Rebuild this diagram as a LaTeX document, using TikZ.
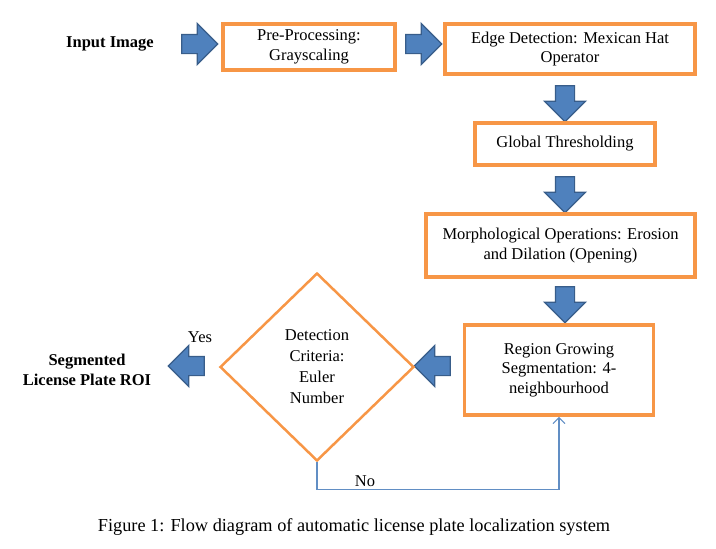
\documentclass[tikz,border=0pt]{standalone}
\usepackage{fontspec}
\setmainfont{Liberation Serif}
\usetikzlibrary{shapes.geometric, shapes.arrows, arrows, arrows.meta}
\definecolor{boxorange}{HTML}{F79646}
\definecolor{arrfill}{HTML}{4F81BD}
\definecolor{arredge}{HTML}{385D8A}
\tikzstyle{blk}=[draw=boxorange, line width=3.5pt, fill=white, align=center, inner sep=2pt]
\tikzstyle{dec}=[diamond, draw=boxorange, line width=2.5pt, align=center, minimum width=194pt, minimum height=188pt, inner sep=0pt, font=\fontsize{16.5}{21}\selectfont]
\tikzstyle{barrow}=[single arrow, draw=arredge, fill=arrfill, line width=1.2pt, inner sep=9pt, minimum height=36pt, single arrow head extend=11pt]
\tikzstyle{lbl}=[font=\fontsize{16.5}{19.5}\selectfont\bfseries, align=center]
\tikzstyle{fb}=[draw=arrfill!90, line width=1.1pt, -{Straight Barb[length=6pt, width=12pt]}]

\begin{document}
\begin{tikzpicture}[x=1pt, y=-1pt, every node/.style={font=\fontsize{16.5}{19.5}\selectfont}]
      \useasboundingbox (0,0) rectangle (716,549);
      % top row
      \node [lbl] (input) at (110,44) {Input Image};
      \node [barrow] (a1) at (195,44) {};
      \node [blk, minimum width=172pt, minimum height=46pt] (pre) at (309,47) {Pre-Processing:\\Grayscaling};
      \node [barrow] (a2) at (419,44) {};
      \node [blk, minimum width=250pt, minimum height=50pt] (edge) at (570,49) {Edge Detection: Mexican Hat\\Operator};
      % right column
      \node [barrow, shape border rotate=270] (a3) at (565,99) {};
      \node [blk, minimum width=180pt, minimum height=42pt] (glob) at (565,144) {Global Thresholding};
      \node [barrow, shape border rotate=270] (a4) at (565,190) {};
      \node [blk, minimum width=269pt, minimum height=63pt] (morph) at (560.5,245.5) {Morphological Operations: Erosion\\and Dilation (Opening)};
      \node [barrow, shape border rotate=270] (a5) at (565,300) {};
      \node [blk, minimum width=189pt, minimum height=90pt] (region) at (559,370) {Region Growing\\Segmentation: 4-\\neighbourhood};
      % bottom row
      \node [barrow, shape border rotate=180] (a6) at (437,366) {};
      \node [dec] (crit) at (317,367) {Detection\\Criteria:\\Euler\\Number};
      \node [barrow, shape border rotate=180] (a7) at (191,366) {};
      \node (yes) at (200,337) {Yes};
      \node [lbl] (roi) at (87,370) {Segmented\\License Plate ROI};
      % loop back
      \draw [fb] (crit.south) -- ++(0,27) -| (region.south);
      \node (no) at (365,481) {No};
      \node [font=\fontsize{18.3}{22}\selectfont] (cap) at (354,527) {Figure 1: Flow diagram of automatic license plate localization system};
\end{tikzpicture}
\end{document}
